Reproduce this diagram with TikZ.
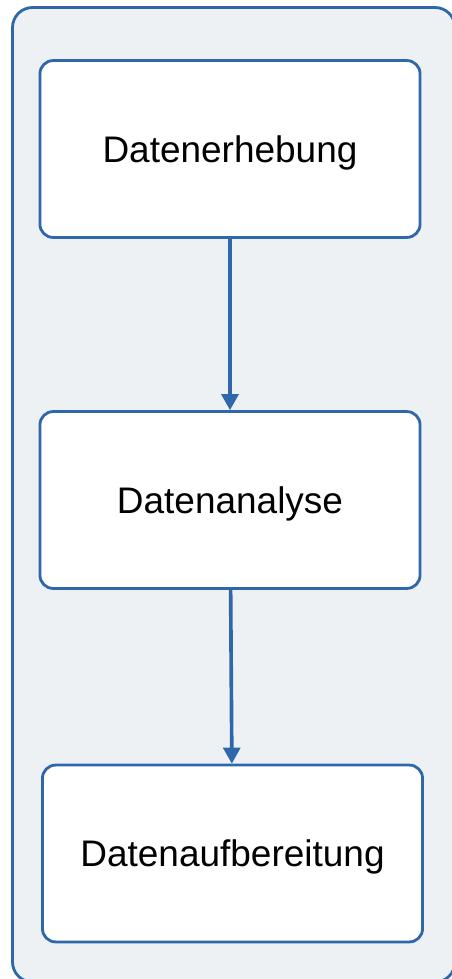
\documentclass[tikz,border=0pt]{standalone}
\usepackage{fontspec}
\setmainfont{Liberation Sans}
\usepackage{xcolor}
\definecolor{framecolor}{HTML}{2E67AA}
\definecolor{panelcolor}{HTML}{EDF1F3}
\usepackage{tikz}
\usetikzlibrary{arrows.meta, positioning}

\tikzset{
  stepbox/.style={draw=framecolor, line width=2pt, fill=white, rounded corners=0.33cm,
    minimum width=9.5cm, minimum height=4.42cm, inner sep=0pt, text depth=0pt,
    font=\fontsize{26.3}{31}\selectfont},
  flowarrow/.style={draw=framecolor, line width=2.6pt, -{Triangle[length=0.4cm, width=0.42cm]}}
}

\begin{document}
\begin{tikzpicture}[x=0.025cm, y=-0.025cm]
  \useasboundingbox (0,0) rectangle (452,979);
  \draw[framecolor, fill=panelcolor, line width=2pt, rounded corners=0.5cm] (12.5,7.5) rectangle (455,982);
  \node[stepbox] (erhebung) at (230,149) {Datenerhebung};
  \node[stepbox] (analyse) at (230,500) {Datenanalyse};
  \node[stepbox] (aufbereitung) at (232.5,853.5) {Datenaufbereitung};
  \draw[flowarrow] (erhebung) -- (analyse);
  \draw[flowarrow] (analyse) -- (aufbereitung);
\end{tikzpicture}
\end{document}
